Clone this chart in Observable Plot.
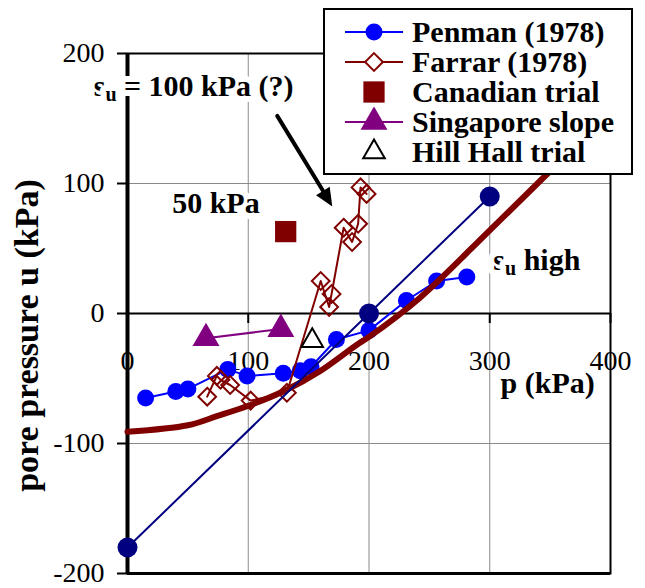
<!DOCTYPE html>
<html>
<head>
<meta charset="utf-8">
<script src="https://cdn.jsdelivr.net/npm/d3@7"></script>
<script src="https://cdn.jsdelivr.net/npm/@observablehq/plot@0.6"></script>
<style>
  body { margin: 0; background: #fff; }
  #wrap { position: relative; width: 645px; height: 588px; font-family: "Liberation Serif", "Times New Roman", serif; }
  #legend { position: absolute; left: 323px; top: 8px; width: 306px; height: 163px; border: 2px solid #000; background: #fff; }
  .row { position: absolute; left: 0; height: 30px; width: 306px; }
  .row svg { position: absolute; left: 18px; top: 0; }
  .row span { position: absolute; left: 87px; top: 0; font-size: 30px; font-weight: bold; line-height: 30px; white-space: nowrap; color: #000; }
</style>
</head>
<body>
<div id="wrap"></div>
<script>
// ---- data ----
const xTicks = [0, 100, 200, 300, 400];
const yTicks = [-200, -100, 0, 100, 200];
const gridX = [100, 200, 300];
const gridY = [-100, 100];

const penmanP = [15, 40, 50, 83, 99, 129, 143, 152, 173, 200, 231, 256, 281];
const penmanU = [-65, -60, -58, -43, -48, -46, -44, -41, -20, -13, 10, 25, 28];

const farrarP = [66, 74, 77, 85, 102, 132, 160, 167, 169, 179, 186, 191, 193, 198];
const farrarU = [-64, -48, -51, -55, -67, -61, 25, 5, 15, 66, 55, 69, 97, 92];

const canadianP = [131];
const canadianU = [63];

const singaporeP = [65, 127];
const singaporeU = [-19, -12];

const hillHallP = [153];
const hillHallU = [-21];

const navyP = [0, 200, 300];
const navyU = [-180, 0, 90];

const curveP = [0, 50, 74, 100, 131, 160, 190, 200, 242, 300, 345, 362];
const curveU = [-91, -86, -79, -71, -59, -44, -24, -18, 12, 64, 105, 120];

const annoText = ["s_u = 100 kPa (?)", "50 kPa", "s_u high", "p (kPa)"];
const annoP = [-28, 37, 303, 309];
const annoU = [175, 85, 41, -54];

const arrowP = [124, 170];
const arrowU = [152, 82];

const yTitle = "pore pressure u (kPa)";
const legendLabels = ["Penman (1978)", "Farrar (1978)", "Canadian trial", "Singapore slope", "Hill Hall trial"];

// ---- build ----
const zip = (xs, ys) => xs.map((p, i) => ({p, u: ys[i]}));
const penman = zip(penmanP, penmanU);
const farrar = zip(farrarP, farrarU);
const canadian = zip(canadianP, canadianU);
const singapore = zip(singaporeP, singaporeU);
const hillHall = zip(hillHallP, hillHallU);
const navy = zip(navyP, navyU);
const curve = zip(curveP, curveU);
const annos = annoText.map((t, i) => ({t, p: annoP[i], u: annoU[i]}));
const arrows = [{x1: arrowP[0], y1: arrowU[0], x2: arrowP[1], y2: arrowU[1]}];

const W = 645, H = 588, mL = 127, mR = 35, mT = 53, mB = 15;
const pxPerU = (H - mT - mB) / 400;
const tickLen = 10 / pxPerU;

const BLUE = "#0000ff", NAVY = "#000080", DRED = "#800000", PURPLE = "#800080";

const chart = Plot.plot({
  width: W, height: H,
  marginLeft: mL, marginRight: mR, marginTop: mT, marginBottom: mB,
  style: {fontFamily: "'Liberation Serif', 'Times New Roman', serif", background: "white", color: "black"},
  x: {domain: [0, 400], axis: null},
  y: {domain: [-200, 200], axis: null},
  marks: [
    Plot.ruleX(gridX, {stroke: "#8a8a8a", strokeWidth: 1}),
    Plot.ruleY(gridY, {stroke: "#8a8a8a", strokeWidth: 1}),
    Plot.frame({stroke: "black", strokeWidth: 2}),
    Plot.ruleY([0], {stroke: "black", strokeWidth: 2}),
    Plot.ruleY([-200], {stroke: "black", strokeWidth: 3}),
    Plot.ruleX([0], {stroke: "black", strokeWidth: 4}),
    Plot.axisY(yTicks, {anchor: "left", tickSize: 10, tickPadding: 13, fontSize: 28, strokeWidth: 2,
      tickFormat: d => String(d), label: null, color: "black"}),
    Plot.ruleX(xTicks, {x: d => d, y1: 0, y2: -tickLen, stroke: "black", strokeWidth: 2}),
    Plot.text(xTicks, {x: d => d, y: 0, dy: 48, text: d => String(d), fontSize: 28, fill: "black"}),
    Plot.text([yTitle], {frameAnchor: "left", textAnchor: "middle", text: d => d, rotate: -90, dx: -100, dy: 22,
      fontSize: 34, fontWeight: "bold", fill: "black"}),
    Plot.text(annos, {x: "p", y: "u", text: "t", textAnchor: "start", fontSize: 30, fontWeight: "bold",
      fill: "black", stroke: "white", strokeWidth: 12}),
    Plot.arrow(arrows, {x1: "x1", y1: "y1", x2: "x2", y2: "y2", stroke: "black", strokeWidth: 4,
      headLength: 0, insetEnd: 8}),
    Plot.line(penman, {x: "p", y: "u", stroke: BLUE, strokeWidth: 2}),
    Plot.dot(penman, {x: "p", y: "u", r: 8.5, fill: BLUE}),
    Plot.line(farrar, {x: "p", y: "u", stroke: DRED, strokeWidth: 2}),
    Plot.dot(farrar, {x: "p", y: "u", symbol: "diamond2", r: 8, fill: "none", stroke: DRED, strokeWidth: 2}),
    Plot.line(singapore, {x: "p", y: "u", stroke: PURPLE, strokeWidth: 2}),
    Plot.dot(singapore, {x: "p", y: "u", symbol: "triangle", r: 10, fill: PURPLE}),
    Plot.dot(canadian, {x: "p", y: "u", symbol: "square", r: 12, fill: DRED}),
    Plot.dot(hillHall, {x: "p", y: "u", symbol: "triangle", r: 8, fill: "white", stroke: "black", strokeWidth: 2}),
    Plot.line(curve, {x: "p", y: "u", curve: "catmull-rom", stroke: DRED, strokeWidth: 6}),
    Plot.line(navy, {x: "p", y: "u", stroke: NAVY, strokeWidth: 2}),
    Plot.dot(navy, {x: "p", y: "u", r: 10, fill: NAVY})
  ]
});

const NS = "http://www.w3.org/2000/svg";
// subscript "u" in annotations
for (const t of chart.querySelectorAll("text")) {
  const s = t.textContent;
  if (s.startsWith("s_u")) {
    t.textContent = "s";
    const sub = document.createElementNS(NS, "tspan");
    sub.setAttribute("baseline-shift", "-5");
    sub.setAttribute("font-size", "20");
    sub.textContent = "u";
    t.appendChild(sub);
    t.appendChild(document.createTextNode(s.slice(3)));
  }
}

// filled arrowhead at the arrow tip, positioned through the chart's scales
{
  const sx = chart.scale("x"), sy = chart.scale("y");
  const a = arrows[0];
  const x1 = sx.apply(a.x1), y1 = sy.apply(a.y1), x2 = sx.apply(a.x2), y2 = sy.apply(a.y2);
  const len = Math.hypot(x2 - x1, y2 - y1);
  const ux = (x2 - x1) / len, uy = (y2 - y1) / len;
  const hl = 18, hw = 8;
  const bx = x2 - hl * ux, by = y2 - hl * uy;
  const poly = document.createElementNS(NS, "polygon");
  poly.setAttribute("points", [[x2, y2], [bx - hw * uy, by + hw * ux], [bx + hw * uy, by - hw * ux]].map(p => p.join(",")).join(" "));
  poly.setAttribute("fill", "black");
  chart.appendChild(poly);
}

const wrap = document.getElementById("wrap");
chart.style.position = "absolute";
chart.style.left = "0px";
chart.style.top = "0px";
wrap.appendChild(chart);

// legend
const legendStyles = [
  {line: BLUE, sym: d3.symbolCircle, r: 8.5, fill: BLUE, stroke: "none"},
  {line: DRED, sym: d3.symbolDiamond2, r: 8, fill: "white", stroke: DRED},
  {line: null, sym: d3.symbolSquare, r: 12, fill: DRED, stroke: "none"},
  {line: PURPLE, sym: d3.symbolTriangle, r: 10, fill: PURPLE, stroke: "none"},
  {line: null, sym: d3.symbolTriangle, r: 8, fill: "white", stroke: "black"}
];
const legend = d3.select(wrap).append("div").attr("id", "legend");
legendLabels.forEach((lab, i) => {
  const st = legendStyles[i];
  const row = legend.append("div").attr("class", "row").style("top", (7 + 30 * i) + "px");
  const svg = row.append("svg").attr("width", 64).attr("height", 30);
  if (st.line) svg.append("line").attr("x1", 2).attr("x2", 60).attr("y1", 15).attr("y2", 15)
    .attr("stroke", st.line).attr("stroke-width", 2);
  svg.append("path").attr("transform", "translate(31,15)")
    .attr("d", d3.symbol(st.sym, Math.PI * st.r * st.r)())
    .attr("fill", st.fill).attr("stroke", st.stroke).attr("stroke-width", 2);
  row.append("span").text(lab);
});
</script>
</body>
</html>
